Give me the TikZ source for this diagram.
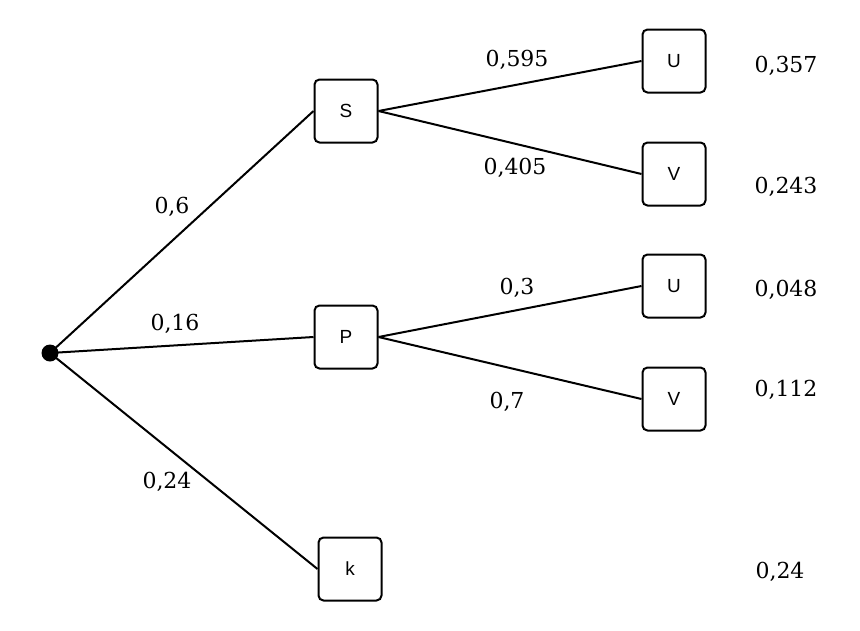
\documentclass[tikz,border=0pt]{standalone}
\usepackage{fontspec}
\setmainfont{DejaVu Serif}
\newfontfamily\boxfont{Liberation Sans}
\begin{document}
\begin{tikzpicture}[
    x=1pt, y=-1pt,
    line width=2pt,
    box/.style={draw, rounded corners=5pt, minimum size=63pt, inner sep=0pt, font=\boxfont\fontsize{19}{19}\selectfont},
    prob/.style={font=\fontsize{22}{22}\selectfont}
]
  \useasboundingbox (0,0) rectangle (860,630);

  % Wurzel
  \node[circle, fill=black, inner sep=0pt, minimum size=17pt] (root) at (50,353) {};

  % Erste Stufe
  \node[box] (S) at (346,111) {S};
  \node[box] (P) at (346,337) {P};
  \node[box] (k) at (350,569) {k};

  % Zweite Stufe
  \node[box] (SU) at (674,61) {U};
  \node[box] (SV) at (674,174) {V};
  \node[box] (PU) at (674,286) {U};
  \node[box] (PV) at (674,399) {V};

  % Kanten
  \draw (root.center) -- (S.west);
  \draw (root.center) -- (P.west);
  \draw (root.center) -- (k.west);
  \draw (S.east) -- (SU.west);
  \draw (S.east) -- (SV.west);
  \draw (P.east) -- (PU.west);
  \draw (P.east) -- (PV.west);

  % Wahrscheinlichkeiten an den Kanten
  \node[prob] at (172,207) {0,6};
  \node[prob] at (175,324) {0,16};
  \node[prob] at (167,482) {0,24};
  \node[prob] at (517,60) {0,595};
  \node[prob] at (515,168) {0,405};
  \node[prob] at (517,288) {0,3};
  \node[prob] at (507,402) {0,7};

  % Pfadwahrscheinlichkeiten
  \node[prob] at (786,66) {0,357};
  \node[prob] at (786,187) {0,243};
  \node[prob] at (786,290) {0,048};
  \node[prob] at (786,390) {0,112};
  \node[prob] at (780,572) {0,24};

\end{tikzpicture}
\end{document}
